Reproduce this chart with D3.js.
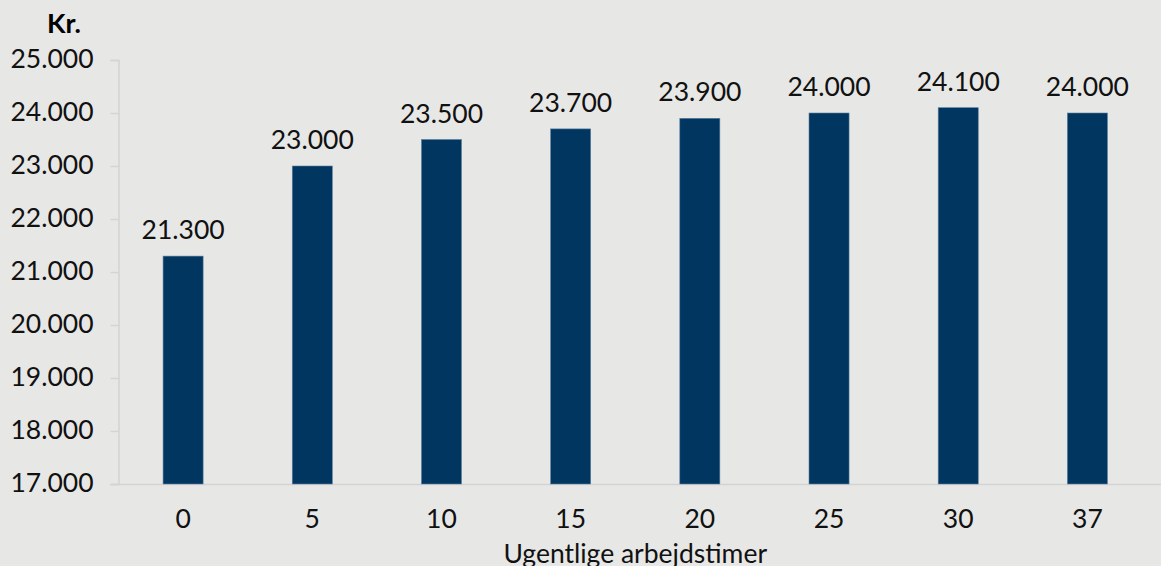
<!DOCTYPE html>
<html><head><meta charset="utf-8">
<script src="https://cdn.jsdelivr.net/npm/d3@7"></script>
<style>
html,body{margin:0;padding:0;background:#e7e7e6;}
svg{display:block;font-family:Lato,"Open Sans",sans-serif;}
</style></head>
<body>
<svg id="c" width="1161" height="566"></svg>
<script>
const categories = ["0","5","10","15","20","25","30","37"];
const values = [21300,23000,23500,23700,23900,24000,24100,24000];
const yTicks = [17000,18000,19000,20000,21000,22000,23000,24000,25000];
const yLabel = "Kr.";
const xLabel = "Ugentlige arbejdstimer";

(function(){
const svg = d3.select("#c");
const mLeft = 118.5, mRight = 1152, mTop = 60, mBottom = 484;
const FS = 26.5;
const fmt = v => d3.format(",")(v).replace(/,/g, ".");

svg.append("rect").attr("width",1161).attr("height",566).attr("fill","#e7e7e6");

const x = d3.scaleBand().domain(categories).range([mLeft,mRight]).paddingInner(0.69).paddingOuter(0.345);
const y = d3.scaleLinear().domain([17000,25000]).range([mBottom,mTop]);

const yAxis = svg.append("g").attr("transform",`translate(${mLeft},0)`)
  .call(d3.axisLeft(y).tickValues(yTicks).tickFormat(fmt).tickSize(8).tickPadding(17));
yAxis.select(".domain").attr("stroke","#d4d4d4").attr("stroke-width",1.5);
yAxis.selectAll(".tick line").attr("stroke","#d4d4d4").attr("stroke-width",1.5);
yAxis.selectAll(".tick text").attr("font-size",FS).attr("fill","#111").attr("font-family","Lato").attr("dy","0.3em");

const xAxis = svg.append("g").attr("transform",`translate(0,${mBottom})`)
  .call(d3.axisBottom(x).tickSize(0));
xAxis.select(".domain").attr("stroke","#d4d4d4").attr("stroke-width",1.5).attr("d",`M${mLeft-8},0.5H${mRight+10}`);
xAxis.selectAll(".tick text").attr("font-size",FS).attr("fill","#111").attr("font-family","Lato").attr("y",44).attr("dy",null);

svg.append("g").selectAll("rect").data(values).join("rect")
  .attr("x",(d,i)=>x(categories[i]))
  .attr("width",x.bandwidth())
  .attr("y",d=>y(d))
  .attr("height",d=>mBottom-y(d))
  .attr("fill","#003660")
  .attr("stroke","#5a7fa0").attr("stroke-width",0.6);

svg.append("g").selectAll("text").data(values).join("text")
  .attr("x",(d,i)=>x(categories[i])+x.bandwidth()/2)
  .attr("y",d=>y(d)-17)
  .attr("text-anchor","middle")
  .attr("font-size",FS).attr("fill","#111")
  .text(fmt);

svg.append("text").attr("x",64).attr("y",33).attr("text-anchor","middle")
  .attr("font-size",27).attr("font-weight","bold").attr("fill","#000").text(yLabel);

svg.append("text").attr("x",(mLeft+mRight)/2).attr("y",563).attr("text-anchor","middle")
  .attr("font-size",FS).attr("fill","#111").text(xLabel);
})();
</script>
</body></html>
